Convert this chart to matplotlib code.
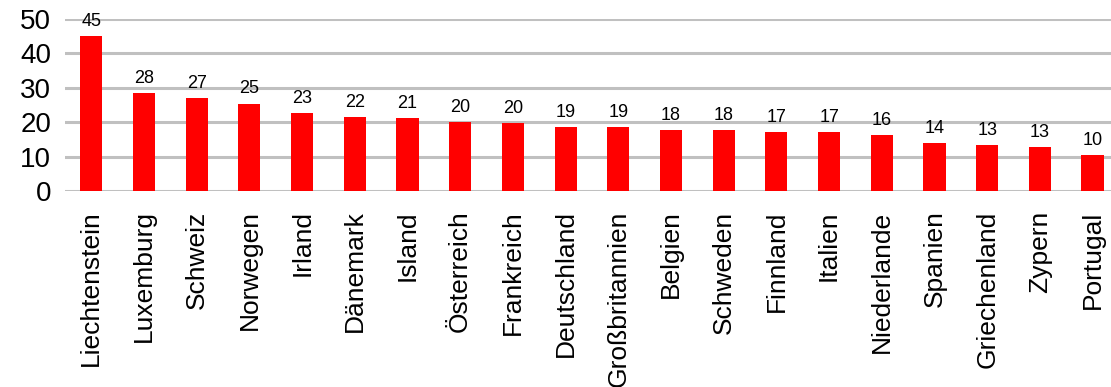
import matplotlib.pyplot as plt

plt.rcParams['font.family'] = ['Liberation Sans', 'DejaVu Sans']

countries = ['Liechtenstein', 'Luxemburg', 'Schweiz', 'Norwegen', 'Irland',
             'Dänemark', 'Island', 'Österreich', 'Frankreich', 'Deutschland',
             'Großbritannien', 'Belgien', 'Schweden', 'Finnland', 'Italien',
             'Niederlande', 'Spanien', 'Griechenland', 'Zypern', 'Portugal']
values = [45.1, 28.5, 27.0, 25.4, 22.7, 21.6, 21.2, 20.1, 19.8, 18.6,
          18.6, 17.7, 17.7, 17.2, 17.2, 16.3, 14.0, 13.4, 12.8, 10.4]
labels = ['45', '28', '27', '25', '23', '22', '21', '20', '20', '19',
          '19', '18', '18', '17', '17', '16', '14', '13', '13', '10']
yticks = [0, 10, 20, 30, 40, 50]

fig = plt.figure(figsize=(11.11, 3.87), dpi=100)
ax = fig.add_axes([65 / 1111, 196 / 387, 1046 / 1111, 172 / 387])

x = list(range(len(countries)))
bars = ax.bar(x, values, width=0.42, color='#FF0000', zorder=3)

# value labels above the bars
for xi, v, lab in zip(x, values, labels):
    ax.text(xi, v + 1.8, lab, ha='center', va='bottom', fontsize=13)

ax.set_xlim(-0.5, 19.35)
ax.set_ylim(0, 50)
ax.set_yticks(yticks)
ax.set_xticks(x)
ax.set_xticklabels(countries, rotation=90, fontsize=19)
ax.tick_params(axis='y', labelsize=20, length=0, pad=10)
ax.tick_params(axis='x', length=0, pad=14)
ax.grid(axis='y', color='#C0C0C0', linewidth=2.2, zorder=0)
ax.set_axisbelow(True)
for s in ax.spines.values():
    s.set_visible(False)

plt.savefig('out.png', dpi=100)
